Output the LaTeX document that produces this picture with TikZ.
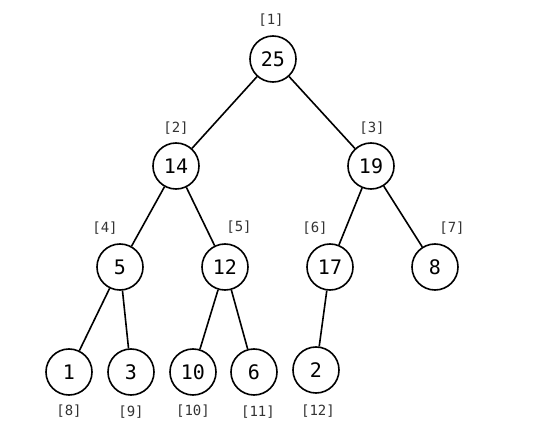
\documentclass[tikz,border=0pt]{standalone}
\usepackage{fontspec}
\setmonofont{DejaVu Sans Mono}
\usepackage{tikz}
\usetikzlibrary{positioning}

\begin{document}
\begin{tikzpicture}[x=1pt, y=-1pt,
  heapnode/.style={draw, circle, line width=1.6pt, minimum size=46pt, inner sep=0pt, font=\ttfamily\fontsize{20}{20}\selectfont},
  idx/.style={font=\ttfamily\fontsize{14}{14}\selectfont, text=black!80}]
  \useasboundingbox (0,0) rectangle (550,444);
  % heap nodes
  \node[heapnode] (n1) at (273,59) {25};
  \node[heapnode] (n2) at (176,166) {14};
  \node[heapnode] (n3) at (371,166) {19};
  \node[heapnode] (n4) at (120,267) {5};
  \node[heapnode] (n5) at (225,267) {12};
  \node[heapnode] (n6) at (330,267) {17};
  \node[heapnode] (n7) at (435,267) {8};
  \node[heapnode] (n8) at (69,372) {1};
  \node[heapnode] (n9) at (131,372) {3};
  \node[heapnode] (n10) at (193,372) {10};
  \node[heapnode] (n11) at (254,372) {6};
  \node[heapnode] (n12) at (316,370) {2};
  % array indices
  \node[idx] (i1) at (271,20) {[1]};
  \node[idx] (i2) at (176,128) {[2]};
  \node[idx] (i3) at (372,128) {[3]};
  \node[idx] (i4) at (105,228) {[4]};
  \node[idx] (i5) at (239,227) {[5]};
  \node[idx] (i6) at (315,228) {[6]};
  \node[idx] (i7) at (452,228) {[7]};
  \node[idx] (i8) at (69,411) {[8]};
  \node[idx] (i9) at (131,412) {[9]};
  \node[idx] (i10) at (193,411) {[10]};
  \node[idx] (i11) at (258,412) {[11]};
  \node[idx] (i12) at (318,411) {[12]};
  % edges
  \draw[line width=1.6pt] (n1) -- (n2);
  \draw[line width=1.6pt] (n1) -- (n3);
  \draw[line width=1.6pt] (n2) -- (n4);
  \draw[line width=1.6pt] (n2) -- (n5);
  \draw[line width=1.6pt] (n3) -- (n6);
  \draw[line width=1.6pt] (n3) -- (n7);
  \draw[line width=1.6pt] (n4) -- (n8);
  \draw[line width=1.6pt] (n4) -- (n9);
  \draw[line width=1.6pt] (n5) -- (n10);
  \draw[line width=1.6pt] (n5) -- (n11);
  \draw[line width=1.6pt] (n6) -- (n12);
\end{tikzpicture}
\end{document}
